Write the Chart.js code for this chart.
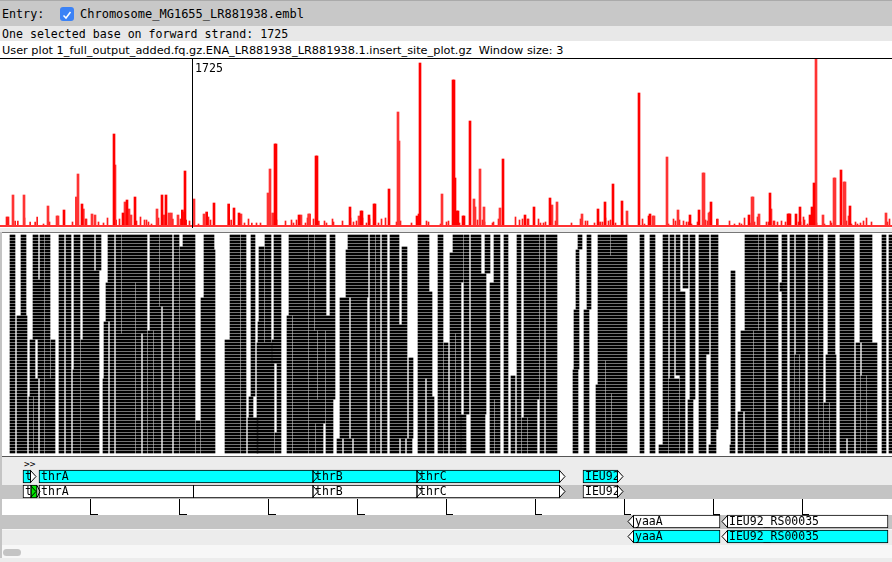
<!DOCTYPE html>
<html><head><meta charset="utf-8">
<script src="https://cdn.jsdelivr.net/npm/chart.js@4"></script>
<style>
html,body{margin:0;padding:0;background:#ececec;overflow:hidden}
#page{position:relative;width:892px;height:562px;overflow:hidden;background:#ececec;font-family:"DejaVu Sans Mono",monospace;color:#000}
.b{position:absolute;left:0;width:892px}
.t{position:absolute;white-space:pre;line-height:14px}
canvas{position:absolute;left:0;display:block}
</style></head><body>
<div id="page">
<div class="b" style="top:0;height:26px;background:#c8c8c8;border-top:1px solid #aaa;box-sizing:border-box"></div>
<div class="b" style="top:26px;height:15px;background:#e8e8e8"></div>
<div class="b" style="top:41px;height:17px;background:#fff"></div>
<div class="b" style="top:58px;height:1px;background:#000"></div>
<div class="b" style="top:59px;height:169px;background:#fff"></div>
<div class="b" style="top:232px;height:1px;background:#777"></div>
<div class="b" style="top:233px;height:223px;background:#fff"></div>
<div class="b" style="top:456px;height:1px;background:#555"></div>
<div class="b" style="top:485px;height:14px;background:#c4c4c4"></div>
<div class="b" style="top:499px;height:16px;background:#fff"></div>
<div class="b" style="top:515px;height:14px;background:#c4c4c4"></div>
<div class="b" style="top:529px;height:1px;background:#f7f7f7"></div>
<div class="b" style="top:545px;height:13px;background:#f7f7f7"></div>
<div style="position:absolute;left:3px;top:549px;width:18px;height:7px;border-radius:4px;background:#c4c4c4"></div>
<div style="position:absolute;left:0;top:232px;width:2px;height:326px;background:#c4c4c4"></div>
<div class="t" style="left:2px;top:7px;font-size:11.7px">Entry:</div>
<div style="position:absolute;left:60px;top:7px;width:14px;height:14px;border-radius:3px;background:#3b82f6">
<svg width="14" height="14" viewBox="0 0 14 14"><path d="M3.5 7.5 L6 10 L10.5 4" fill="none" stroke="#fff" stroke-width="1.5"/></svg></div>
<div class="t" style="left:80px;top:7px;font-size:12px">Chromosome_MG1655_LR881938.embl</div>
<div class="t" style="left:2px;top:27px;font-size:11.6px">One selected base on forward strand: 1725</div>
<div class="t" id="plotTitle" style="left:2px;top:44px;font-family:'DejaVu Sans';font-size:11.3px">User plot 1_full_output_added.fq.gz.ENA_LR881938_LR881938.1.insert_site_plot.gz  Window size: 3</div>
<div class="t" style="left:24px;top:457px;font-size:9.5px">&gt;&gt;</div>
<div class="t" style="left:24px;top:559px;font-size:9.5px">&gt;&gt;</div>
<canvas id="plot" width="892" height="169" style="top:59px"></canvas>
<canvas id="reads" width="892" height="222" style="top:233px"></canvas>
<canvas id="features" width="892" height="75" style="top:469px"></canvas>
<canvas id="ruler" width="892" height="16" style="top:499px"></canvas>
</div>
<script>
// Insert-site plot, window size 3: base position and count
const strongBase=[558,720,1008,1089,1125,1197,1440,1476,1623,1647,1842,1908,2040,2088,2133,2457,2466,2673,2826,2835,3132,3231,3240,3303,3348,3357,3483,3735,3753,3762,4059,4068,4077,4095,4104,4149,4158,4212,4509,4707,4788,4932,5364,5427,5499,5580,5733,5823,5832,6192,6273,6381,6723,6912,7074,7083,7092,7146,7182,7272,7290,7308,7551,7632];
const strongValue=[16,22,92,13,26,29,31,31,16,55,14,23,22,18,13,82,82,11,70,70,19,15,15,11,22,22,37,10,12,163,146,146,48,15,15,10,10,105,67,11,19,28,17,24,42,25,133,10,12,11,16,24,11,33,12,12,12,12,19,11,19,43,56,20];
const softBase=[99,198,414,495,504,669,684,732,810,837,1017,1107,1143,1161,1395,1458,1503,1524,1584,1638,1728,1818,2151,2394,2412,2436,2691,2760,2769,3213,3564,3573,3960,4248,4257,4302,4338,4482,4950,4995,5220,5625,5859,5868,5985,6084,6309,6318,6363,6372,6750,6759,6813,6921,7326,7389,7488,7497,7578,7587,7623,7956];
const softValue=[31,31,20,10,10,29,52,17,12,11,61,24,17,11,17,11,13,13,11,14,27,12,12,33,57,13,11,12,12,10,114,85,32,27,19,57,19,18,21,24,12,15,10,10,69,16,53,53,13,14,29,29,12,17,167,11,48,48,44,44,10,13];
const minorBase=[45,54,63,123,147,207,258,303,321,378,432,639,756,765,873,918,954,1032,1062,1215,1251,1287,1305,1323,1350,1413,1542,1611,1662,1692,1773,1863,1881,2067,2187,2223,2253,2295,2331,2475,2556,2610,2628,2655,2736,2754,2808,2856,2907,2925,2979,2988,3069,3141,3168,3195,3249,3285,3312,3393,3420,3456,3555,3591,3690,3825,3843,3951,4005,4023,4122,4284,4329,4347,4419,4428,4473,4626,4662,4689,4734,4743,4833,4851,4878,4896,4941,4986,5130,5211,5256,5274,5337,5376,5391,5409,5436,5463,5481,5526,5589,5634,5769,5787,6003,6048,6066,6102,6138,6165,6183,6210,6264,6336,6354,6438,6447,6552,6597,6642,6660,6687,6735,6777,6804,6885,6903,6948,6957,6984,7020,7056,7173,7191,7218,7227,7254,7335,7407,7461,7470,7605,7650,7686,7704,7731,7758,7785,7830,7974,7992];
const minorValue=[9,9,9,5,5,8,4,4,9,2,4,4,7,7,4,3,8,6,7,5,9,6,6,4,2,8,7,7,6,5,2,9,6,6,3,7,3,3,3,6,5,6,3,6,3,8,7,5,5,3,7,4,5,8,4,5,8,3,7,3,7,8,4,5,3,5,4,2,4,5,3,6,6,4,3,4,7,9,6,7,7,7,7,3,3,4,9,5,3,7,5,5,3,4,4,4,8,5,6,3,5,2,7,2,2,7,5,6,5,4,4,2,4,6,5,7,7,5,2,3,2,8,3,4,9,4,4,5,5,4,5,4,4,4,9,6,2,3,2,5,3,5,2,4,2,3,5,8,4,4,7];
const baselineBase=[-18,8010];
const plotCursorBase=1714.5, selectedBase=1725, selectedLabel="1725";
const plotMax=167, plotMin=-2;

// BAM reads as [first base, last base, first stack row, last stack row]
const readsLeft=[[72,117,0,72],[171,216,0,26],[135,225,27,72],[279,324,0,14],[342,378,0,14],[387,432,0,34],[279,378,15,34],[252,297,35,47],[324,378,35,47],[387,432,35,47],[441,477,35,47],[252,324,48,53],[342,378,48,72],[387,477,48,72],[243,279,54,72],[288,324,54,72],[513,558,0,72],[576,621,0,72],[648,702,0,44],[639,702,45,72],[729,828,0,11],[846,891,0,11],[729,873,12,34],[711,873,35,72],[954,1008,0,15],[936,1008,16,28],[918,954,29,47],[972,1008,29,72],[909,954,48,72],[1026,1071,0,32],[1026,1197,33,72],[1080,1305,0,15],[1080,1197,16,32],[1206,1305,16,32],[1206,1251,33,72],[1269,1305,33,72],[1314,1359,32,72],[1332,1413,0,23],[1422,1530,0,23],[1332,1431,24,31],[1368,1431,32,72],[1449,1530,24,72],[1548,1593,0,72],[1629,1737,0,3],[1602,1737,4,72],[1818,1908,0,4],[1818,1917,5,20],[1791,1917,21,72],[1746,1782,62,72],[2052,2142,0,34],[2007,2142,35,72],[2151,2196,0,72],[2241,2277,0,53],[2223,2259,54,60],[2214,2304,61,72],[2367,2421,0,35],[2313,2358,4,28],[2304,2358,29,35],[2295,2430,36,42],[2295,2448,43,72],[2448,2511,0,34],[2430,2511,35,42],[2475,2511,43,65],[2457,2511,66,72],[2583,2754,0,26],[2565,2610,27,72],[2619,2754,27,72]];
const readsMiddle=[[2763,2808,0,31],[2817,2916,0,26],[2952,2997,0,26],[2817,2997,27,31],[2763,2835,32,54],[2844,2907,32,54],[2916,2997,32,54],[2763,2907,55,62],[2916,2979,55,72],[2763,2817,63,72],[2826,2889,63,72],[3114,3294,0,4],[3096,3294,5,20],[3042,3123,21,67],[3141,3285,21,67],[3015,3060,68,72],[3078,3150,68,72],[3168,3285,68,72],[3312,3357,0,72],[3366,3402,0,72],[3420,3465,0,72],[3492,3573,0,29],[3600,3645,4,29],[3492,3645,30,67],[3663,3699,41,67],[3492,3573,68,72],[3591,3627,68,72],[3645,3690,68,72],[3744,3843,0,18],[3744,3870,19,47],[3744,3807,48,72],[3825,3870,48,53],[3825,3888,54,72],[3924,3969,0,72],[3978,4014,36,72],[4059,4149,0,5],[4032,4149,6,15],[4032,4131,16,32],[4032,4077,33,72],[4086,4131,33,72],[4158,4203,0,59],[4131,4176,60,72],[4221,4311,0,12],[4221,4356,13,59],[4221,4347,60,72],[4347,4392,0,12],[4428,4482,0,15],[4392,4482,16,54],[4392,4428,55,72],[4437,4482,55,72],[4518,4554,0,72],[4581,4617,47,72],[4635,4671,0,72],[4698,4833,0,54],[4698,4815,55,60],[4680,4725,61,72],[4734,4815,61,72],[4842,4878,0,72],[4896,4995,0,72],[5184,5220,0,4],[5166,5193,5,24],[5148,5193,25,44],[5139,5184,45,72],[5265,5301,0,24],[5238,5283,25,72]];
const readsRight=[[5364,5472,0,6],[5481,5625,0,6],[5364,5625,7,41],[5364,5427,42,49],[5436,5625,42,52],[5346,5427,50,72],[5436,5481,53,72],[5490,5625,53,72],[5742,5778,0,72],[5832,5877,0,72],[5949,5994,0,69],[5913,5994,70,72],[6012,6048,0,47],[6003,6093,48,72],[6066,6102,0,18],[6066,6147,19,46],[6102,6147,47,72],[6129,6174,0,17],[6192,6237,0,54],[6174,6219,55,72],[6273,6363,0,39],[6273,6336,40,72],[6381,6444,0,64],[6381,6426,65,69],[6363,6426,70,72],[6561,6597,12,69],[6552,6597,70,72],[6687,6804,0,31],[6813,6858,0,31],[6651,6759,32,58],[6768,6858,32,72],[6624,6669,59,72],[6687,6759,59,72],[6876,6984,0,72],[7020,7065,0,72],[7002,7020,16,18],[7092,7128,0,72],[7146,7227,0,39],[7137,7173,40,72],[7182,7227,40,72],[7254,7344,0,72],[7353,7389,0,72],[7398,7443,56,72],[7452,7506,56,72],[7434,7497,0,39],[7416,7506,40,55],[7542,7668,0,67],[7542,7596,68,72],[7614,7668,68,72],[7722,7830,0,35],[7686,7722,36,72],[7740,7875,36,46],[7731,7776,47,72],[7785,7875,47,72],[7920,7956,0,72],[7983,8010,0,72]];

// Features: name, start, end, frame row, strand
const featureRows=["frame 1","frame 2","ruler","reverse 1","reverse 2"];
const cyanNames=["thrL","thrA","thrB","thrC","IEU92_RS00010","yaaA","IEU92_RS00035"];
const cyanStart=[189,333,2799,3735,5229,5679,6525];
const cyanEnd=[261,2799,3735,5022,5544,6462,7974];
const cyanRow=["frame 1","frame 1","frame 1","frame 1","frame 1","reverse 2","reverse 2"];
const whiteNames=["thrL","thrA","thrB","thrC","IEU92_RS00010","yaaA","IEU92_RS00035"];
const whiteStart=[189,333,2799,3735,5229,5679,6525];
const whiteEnd=[261,2799,3735,5022,5544,6462,7974];
const whiteRow=["frame 2","frame 2","frame 2","frame 2","frame 2","reverse 1","reverse 1"];
const greenStart=[261], greenEnd=[315], greenRow=["frame 2"];
const featureStrand=[1,1,1,1,1,-1,-1];
const rulerTicks=[800,1600,2400,3200,4000,4800,5600,6400,7200];

const MONO='"DejaVu Sans Mono", monospace';
const xMin=-18,xMax=8010;
const xHidden={type:'linear',min:xMin,max:xMax,display:false,offset:false};
const base={responsive:false,animation:false,devicePixelRatio:1,events:[],layout:{padding:0},plugins:{legend:{display:false},tooltip:{enabled:false}}};
const pts=(xs,ys)=>xs.map((x,i)=>({x,y:ys[i]}));

new Chart(document.getElementById('plot'),{
 type:'bar',
 data:{datasets:[
  {type:'line',data:[{x:plotCursorBase,y:plotMin},{x:plotCursorBase,y:plotMax}],borderColor:'#000',borderWidth:1,pointRadius:0,order:0},
  {type:'line',data:pts(baselineBase,[0,0]),borderColor:'#ff3333',borderWidth:2,pointRadius:0,order:1},
  {data:pts(strongBase,strongValue),backgroundColor:'#ff0000',barThickness:2,grouped:false,order:2},
  {data:pts(softBase,softValue),backgroundColor:'#ff3333',barThickness:2,grouped:false,order:3},
  {data:pts(minorBase,minorValue),xAxisID:'x2',backgroundColor:'#ff1a1a',barThickness:1,grouped:false,order:4}
 ]},
 options:{...base,scales:{x:xHidden,x2:{...xHidden,min:-13.5,max:8014.5},y:{type:'linear',min:plotMin,max:plotMax,display:false}}},
 plugins:[{id:'cursorLabel',afterDraw(c){const g=c.ctx;g.save();g.font='11.6px '+MONO;g.fillStyle='#000';g.textBaseline='middle';
   g.fillText(selectedLabel,c.scales.x.getPixelForValue(plotCursorBase)+2.5,10);g.restore();}}]
});

const readBars=[...readsLeft,...readsMiddle,...readsRight].flatMap(([s,e,t,b])=>{const o=[];for(let r=t;r<=b;r++)o.push({x:[s,e],y:r});return o;});
new Chart(document.getElementById('reads'),{
 type:'bar',
 data:{datasets:[{data:readBars,backgroundColor:'#000',barThickness:2,borderWidth:0}]},
 options:{...base,indexAxis:'y',scales:{x:xHidden,y:{type:'linear',min:-1,max:73,reverse:true,display:false,offset:false}}}
});

const fb=(st,en,ro)=>st.map((s,i)=>({x:[s,en[i]],y:ro[i]}));
const barStyle={borderColor:'#000',borderWidth:1,borderSkipped:false,barThickness:13,grouped:false};
new Chart(document.getElementById('features'),{
 type:'bar',
 data:{labels:featureRows,datasets:[
  {data:fb(cyanStart,cyanEnd,cyanRow),backgroundColor:'#00ffff',...barStyle},
  {data:fb(whiteStart,whiteEnd,whiteRow),backgroundColor:'#ffffff',...barStyle},
  {data:fb(greenStart,greenEnd,greenRow),backgroundColor:'#00e600',...barStyle}
 ]},
 options:{...base,indexAxis:'y',scales:{x:xHidden,y:{type:'category',labels:featureRows,display:false,offset:true}}},
 plugins:[{id:'featureMarks',afterDatasetsDraw(c){
  const g=c.ctx,X=c.scales.x,Y=c.scales.y;g.save();
  const sets=[[cyanNames,cyanStart,cyanEnd,cyanRow],[whiteNames,whiteStart,whiteEnd,whiteRow]];
  for(const [names,st,en,ro] of sets){names.forEach((n,i)=>{
    const x0=Math.round(X.getPixelForValue(st[i])),x1=Math.round(X.getPixelForValue(en[i])),yc=Y.getPixelForValue(ro[i]);
    const top=yc-6.5,bot=yc+6.5,dir=featureStrand[i];
    const ax=dir>0?x1:x0,tip=ax+dir*5;
    const covered=st.some((s,j)=>j!==i&&ro[j]===ro[i]&&s>=en[i]&&X.getPixelForValue(s)<=tip+1)||(ro[i]==='frame 2'&&en[i]===greenStart[0]);
    g.beginPath();g.moveTo(ax-dir*0.5,top+.5);g.lineTo(tip,yc);g.lineTo(ax-dir*0.5,bot-.5);
    if(!covered){g.fillStyle='#fff';g.closePath();g.fill();}
    g.strokeStyle='#000';g.lineWidth=1;g.stroke();
    g.save();g.beginPath();g.rect(x0+1,top+1,x1-x0-2,12);g.clip();
    g.font='11.5px '+MONO;g.fillStyle='#000';g.textBaseline='middle';g.fillText(n,x0+2,yc+.5);g.restore();
  });}
  const sx=Math.floor(X.getPixelForValue(selectedBase))+.5,sy=Y.getPixelForValue('frame 2');
  g.strokeStyle='#000';g.beginPath();g.moveTo(sx,sy-6.5);g.lineTo(sx,sy+6.5);g.stroke();
  const gx=Math.round(X.getPixelForValue(greenEnd[0]));
  g.beginPath();g.moveTo(gx,sy-6);g.lineTo(gx+3,sy);g.lineTo(gx,sy+6);g.stroke();
  g.restore();}}]
});

new Chart(document.getElementById('ruler'),{
 type:'scatter',
 data:{datasets:[{data:[]}]},
 options:{...base,scales:{
  x:{type:'linear',min:xMin,max:xMax,position:'bottom',offset:false,
   afterBuildTicks:s=>{s.ticks=rulerTicks.map(v=>({value:v}));},
   afterFit:s=>{s.height=0;},
   grid:{color:'#000',lineWidth:1,drawTicks:false,drawOnChartArea:true},border:{display:false},
   ticks:{autoSkip:false,maxRotation:0,align:'start',padding:-14,labelOffset:2,color:'#000',font:{family:MONO,size:11.5},callback:v=>String(v)}},
  y:{type:'linear',display:false,min:0,max:1}}},
 plugins:[{id:'rulerFeet',afterDraw(c){const g=c.ctx,X=c.scales.x;g.save();g.strokeStyle='#000';g.lineWidth=1;
   rulerTicks.forEach(v=>{const p=Math.round(X.getPixelForValue(v));g.beginPath();g.moveTo(p,15.5);g.lineTo(p+7,15.5);g.stroke();});g.restore();}}]
});
</script>
</body></html>
